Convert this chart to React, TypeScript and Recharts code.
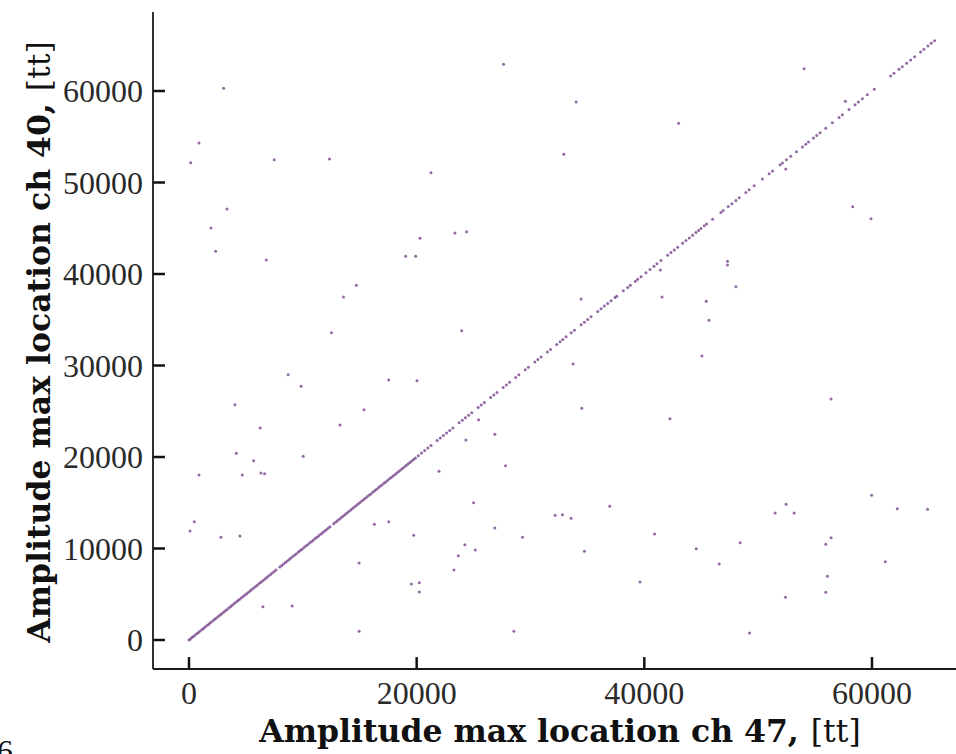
import { ScatterChart, Scatter, XAxis, YAxis, Label, ReferenceLine } from 'recharts';

// axis ticks
const xTicks = [0, 20000, 40000, 60000];
const yTicks = [0, 10000, 20000, 30000, 40000, 50000, 60000];

// events where both channels peak at the same time (they sit on y = x)
const diagonalValues = [
  0, 120, 260, 390, 540, 700, 830, 980, 1150, 1290, 1440, 1610, 1760, 1900, 2080, 2230, 2370, 2540,
  2700, 2850, 3010, 3160, 3320, 3490, 3640, 3790, 3950, 4120, 4280, 4420, 4590, 4750, 4910, 5060,
  5230, 5390, 5540, 5710, 5870, 6020, 6190, 6350, 6510, 6680, 6830, 6990, 7160, 7310, 7480, 7640,
  7980, 8150, 8300, 8470, 8630, 8800, 8950, 9120, 9280, 9440, 9610, 9770, 9930, 10100, 10260, 10420,
  10590, 10750, 10910, 11080, 11240, 11400, 11570, 11730, 11890, 12060, 12220, 12380, 12700, 12870,
  13030, 13200, 13360, 13520, 13690, 13850, 14010, 14180, 14340, 14500, 14670, 14830, 14990, 15160,
  15320, 15480, 15650, 15810, 15970, 16140, 16300, 16460, 16630, 16790, 16950, 17120, 17280, 17440,
  17610, 17770, 17930, 18100, 18260, 18420, 18590, 18750, 18910, 19080, 19240, 19400, 19570, 19730,
  19890, 20150, 20430, 20700, 20980, 21260, 21800, 22080, 22350, 22630, 22900, 23180, 23730, 24010,
  24280, 24560, 24840, 25400, 25670, 25950, 26500, 26780, 27060, 27600, 27880, 28160, 28700, 28980,
  29540, 29820, 30380, 30650, 30930, 31480, 31760, 32300, 32600, 32837, 33129, 33568, 33860, 34445,
  34737, 35030, 35322, 35907, 36199, 36492, 36784, 37076, 37427, 37574, 38158, 38538, 38772, 39211,
  39416, 39708, 40147, 40497, 40848, 41112, 41462, 42047, 42340, 42632, 42924, 43363, 43655, 43948,
  44240, 44533, 44767, 44971, 45264, 45468, 45994, 46725, 46930, 47369, 47691, 48041, 48334, 48919,
  49211, 49650, 50381, 50965, 51258, 51930, 52135, 52486, 52866, 53363, 53889, 54182, 54416, 54855,
  55147, 55439, 55936, 56521, 57106, 57398, 57983, 58509, 58802, 59153, 59591, 60205, 61639, 61931,
  62369, 62662, 63042, 63393, 63744, 64270, 64563, 64914, 65206, 65498,
];

// scattered events, ch 47 location
const offDiagonalX = [
  27632, 3044, 877, 149, 7483, 12342, 21257, 3333, 1930, 2339, 6784, 20292, 23360, 24386, 19035,
  19912, 14708, 13569, 12513, 23948, 54036, 34008, 43010, 32925, 52430, 57660, 58307, 59912, 47307,
  47307, 48045, 41404, 41553, 34447, 45440, 45676, 8711, 9851, 17544, 20027, 4035, 15378, 13272,
  6255, 25439, 24325, 26869, 4152, 10029, 5672, 877, 4678, 6316, 6638, 21960, 27808, 25000, 468, 88,
  2807, 4474, 16287, 17544, 19737, 26869, 29299, 24238, 25146, 23655, 23275, 14942, 19532, 20234,
  20234, 6491, 9064, 14942, 28540, 45060, 33744, 34505, 42251, 56405, 59970, 62220, 64885, 36960,
  32164, 32810, 33568, 34737, 40900, 51490, 52455, 53157, 44561, 48421, 46579, 56405, 55938, 61166,
  56080, 55938, 39622, 52400, 49237,
];

// scattered events, ch 40 location
const offDiagonalY = [
  62924, 60300, 54320, 52170, 52500, 52573, 51076, 47108, 45032, 42484, 41534, 43906, 44485, 44630,
  41937, 41937, 38769, 37490, 33590, 33810, 62445, 58800, 56475, 53087, 51480, 58880, 47360, 46050,
  41390, 40990, 38617, 40441, 37490, 37270, 37020, 34944, 29000, 27729, 28418, 28345, 25718, 25172,
  23500, 23172, 24080, 21860, 22481, 20406, 20078, 19600, 18035, 18035, 18253, 18180, 18436, 19052,
  15010, 12930, 11914, 11220, 11367, 12645, 12930, 11440, 12242, 11220, 10415, 9837, 9217, 7651,
  8416, 6120, 6267, 5246, 3644, 3717, 948, 948, 31040, 30170, 25320, 24190, 26340, 15815, 14350,
  14280, 14610, 13630, 13700, 13300, 9690, 11590, 13880, 14830, 13880, 9980, 10640, 8307, 11185,
  10460, 8560, 6960, 5210, 6340, 4660, 765,
];

const points = [
  ...diagonalValues.map((v) => ({ x: v, y: v })),
  ...offDiagonalX.map((x, i) => ({ x, y: offDiagonalY[i] })),
];

const X_DOMAIN: [number, number] = [-3163, 68874];
const Y_DOMAIN: [number, number] = [-3169, 68634];
// inward tick length (~12 px) expressed in axis units
const X_TICK_LEN = 1050;
const Y_TICK_LEN = 1300;

const TICK_FONT = '"Liberation Serif", serif';
const LABEL_FONT = '"DejaVu Serif", serif';
const INK = '#1a1a1a';

const XTick = (props: any) => {
  const { x, y, payload } = props;
  return (
    <text x={x} y={y} dy="0.71em" textAnchor="middle" fontFamily={TICK_FONT} fontSize={32} fill="#2a2a2a">
      {payload.value}
    </text>
  );
};

const YTick = (props: any) => {
  const { x, y, payload } = props;
  return (
    <text x={x} y={y} dy="0.355em" textAnchor="end" fontFamily={TICK_FONT} fontSize={32} fill="#2a2a2a">
      {payload.value}
    </text>
  );
};

const Dot = (props: any) => (
  <circle cx={props.cx} cy={props.cy} r={1.5} fill="#7f4f93" fillOpacity={0.85} />
);

const XTitle = () => (
  <g>
    <text x={560} y={742} textAnchor="middle" fontFamily={LABEL_FONT} fontSize={31.5} fill="#111">
      <tspan fontWeight="bold">Amplitude max location ch 47,</tspan>
      <tspan fontWeight="normal" dx={12}>[tt]</tspan>
    </text>
    <text x={-3} y={762} fontFamily={TICK_FONT} fontSize={32} fill="#111">6</text>
  </g>
);

const YTitle = () => (
  <text
    x={50}
    y={342}
    transform="rotate(-90, 50, 342)"
    textAnchor="middle"
    fontFamily={LABEL_FONT}
    fontSize={31.5}
    fill="#111"
  >
    <tspan fontWeight="bold">Amplitude max location ch 40,</tspan>
    <tspan fontWeight="normal" dx={12}>[tt]</tspan>
  </text>
);

export default function App() {
  return (
    <div style={{ position: 'absolute', left: 0, top: 0, width: 956, height: 754, overflow: 'hidden', background: '#fff' }}>
      <ScatterChart width={990} height={754} margin={{ top: 12, right: 17, bottom: 0, left: 0 }}>
        <XAxis
          dataKey="x"
          type="number"
          domain={X_DOMAIN}
          allowDataOverflow
          ticks={xTicks}
          tick={XTick}
          tickSize={0}
          tickMargin={12}
          tickLine={false}
          height={85}
          axisLine={{ stroke: INK, strokeWidth: 1.8 }}
        >
          <Label content={XTitle} />
        </XAxis>
        <XAxis
          xAxisId="top"
          orientation="top"
          type="number"
          domain={X_DOMAIN}
          height={0}
          tick={false}
          tickLine={false}
          axisLine={{ stroke: INK, strokeWidth: 1.8 }}
        />
        <YAxis
          dataKey="y"
          type="number"
          domain={Y_DOMAIN}
          allowDataOverflow
          ticks={yTicks}
          tick={YTick}
          tickSize={0}
          tickMargin={10}
          tickLine={false}
          width={153}
          axisLine={{ stroke: INK, strokeWidth: 1.8 }}
        >
          <Label content={YTitle} />
        </YAxis>
        {xTicks.map((t) => (
          <ReferenceLine
            key={`xt${t}`}
            segment={[{ x: t, y: Y_DOMAIN[0] }, { x: t, y: Y_DOMAIN[0] + Y_TICK_LEN }]}
            stroke="#111"
            strokeWidth={2.5}
            ifOverflow="visible"
          />
        ))}
        {yTicks.map((t) => (
          <ReferenceLine
            key={`yt${t}`}
            segment={[{ x: X_DOMAIN[0], y: t }, { x: X_DOMAIN[0] + X_TICK_LEN, y: t }]}
            stroke="#111"
            strokeWidth={2.5}
            ifOverflow="visible"
          />
        ))}
        <Scatter data={points} shape={Dot} isAnimationActive={false} />
      </ScatterChart>
    </div>
  );
}
